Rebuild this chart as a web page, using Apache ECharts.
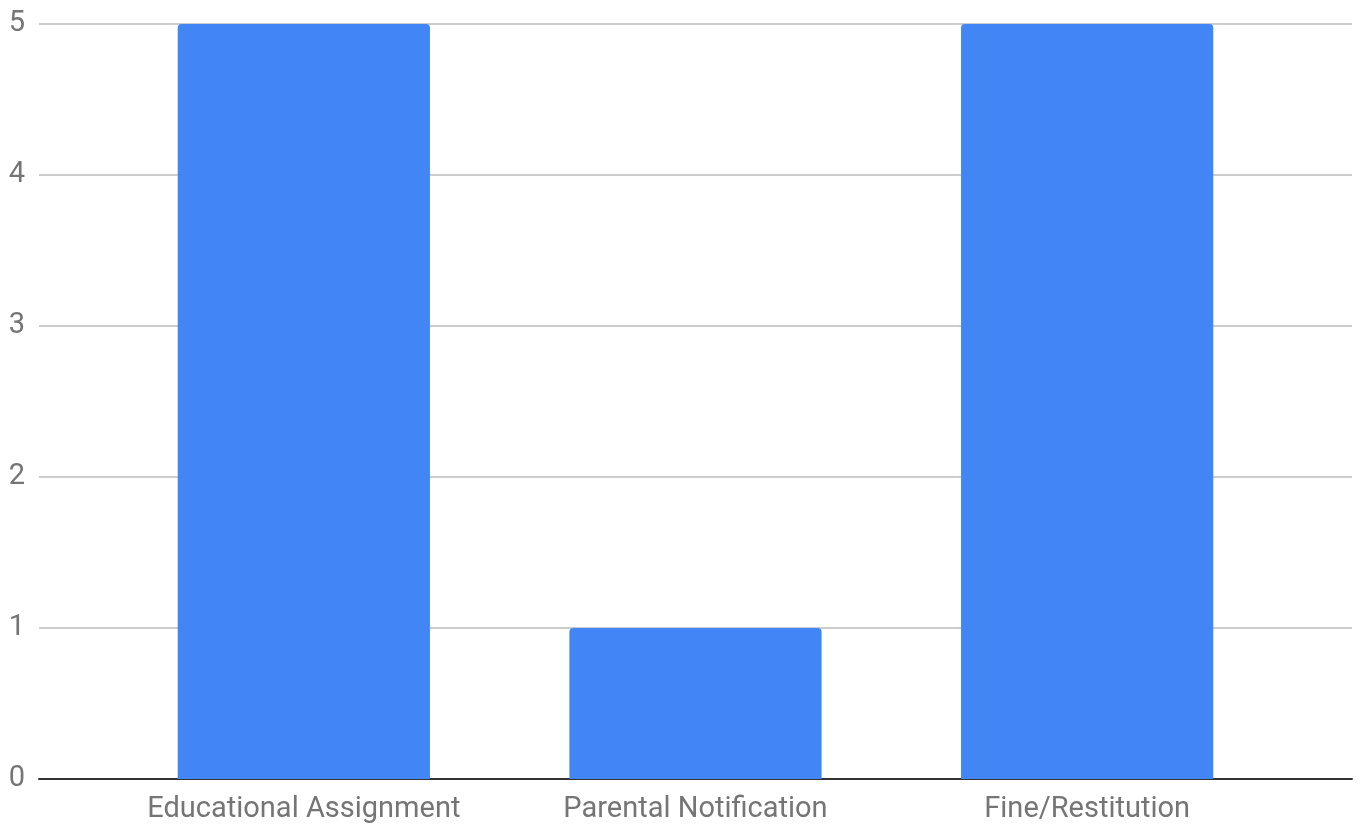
<!DOCTYPE html>
<html><head><meta charset="utf-8">
<script src="https://cdn.jsdelivr.net/npm/echarts@6/dist/echarts.min.js"></script>
<style>html,body{margin:0;padding:0;background:#fff}#c{width:1364px;height:827px}</style>
</head><body><div id="c"></div>
<script>
const categories = ["Educational Assignment", "Parental Notification", "Fine/Restitution"];
const values = [5, 1, 5];
const yTicks = [0, 1, 2, 3, 4, 5];
const chart = echarts.init(document.getElementById('c'));
const labelStyle = {color: '#757575', fontFamily: 'Roboto', fontSize: 29};
chart.setOption({
  animation: false,
  grid: [
    {left: 39, right: 12, top: 24, bottom: 48, containLabel: false},
    {left: 108, right: 81, top: 24, bottom: 48, containLabel: false}
  ],
  xAxis: [
    {gridIndex: 0, type: 'value', min: 0, max: 1,
     axisLine: {show: true, onZero: false, lineStyle: {color: '#333', width: 2}},
     axisTick: {show: false}, axisLabel: {show: false}, splitLine: {show: false}},
    {gridIndex: 1, type: 'category', data: categories,
     axisLine: {show: false}, axisTick: {show: false},
     axisLabel: Object.assign({margin: 16, interval: 0, hideOverlap: false}, labelStyle)}
  ],
  yAxis: [
    {gridIndex: 0, type: 'value', min: yTicks[0], max: yTicks[yTicks.length - 1], interval: 1,
     axisLine: {show: false}, axisTick: {show: false},
     splitLine: {lineStyle: {color: '#cccccc', width: 2}},
     axisLabel: Object.assign({margin: 14}, labelStyle)},
    {gridIndex: 1, type: 'value', min: yTicks[0], max: yTicks[yTicks.length - 1], interval: 1,
     show: false, splitLine: {show: false}}
  ],
  series: [{
    type: 'bar', xAxisIndex: 1, yAxisIndex: 1, data: values, barWidth: '64.4%', z: 3,
    itemStyle: {color: '#4285F4', borderRadius: [4, 4, 0, 0]}
  }]
});
</script></body></html>
